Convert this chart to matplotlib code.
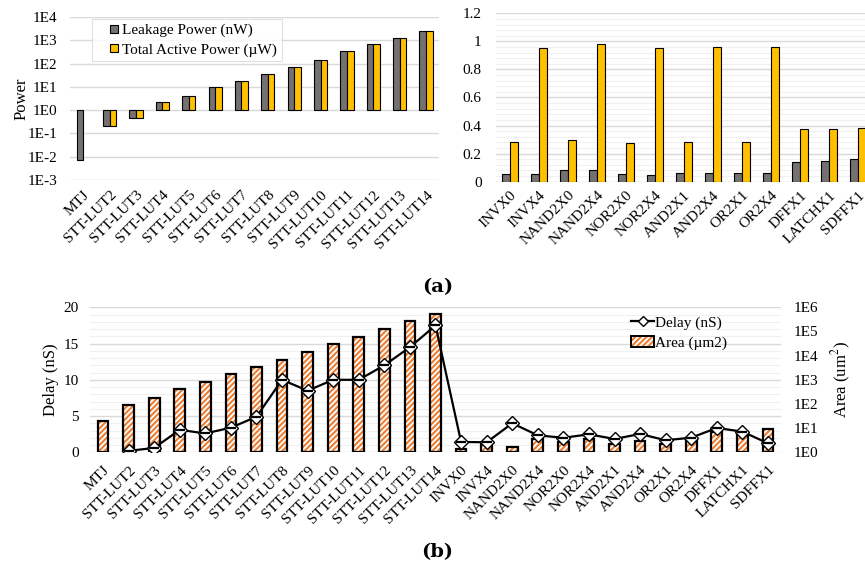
import matplotlib
matplotlib.use("Agg")
import matplotlib.pyplot as plt
import numpy as np
from matplotlib.ticker import FuncFormatter, MultipleLocator, LogLocator, NullFormatter
from matplotlib.lines import Line2D
from matplotlib.patches import Patch
from matplotlib.legend_handler import HandlerTuple

plt.rcParams['font.family'] = ['Liberation Serif', 'DejaVu Serif']
plt.rcParams['mathtext.fontset'] = 'stix'
plt.rcParams['hatch.color'] = '#ED7D31'
plt.rcParams['hatch.linewidth'] = 1.5

# ---- data ----
stt_cells = ['MTJ', 'STT-LUT2', 'STT-LUT3', 'STT-LUT4', 'STT-LUT5', 'STT-LUT6', 'STT-LUT7',
             'STT-LUT8', 'STT-LUT9', 'STT-LUT10', 'STT-LUT11', 'STT-LUT12', 'STT-LUT13', 'STT-LUT14']
stt_leak = [0.0075, 0.2, 0.47, 2.35, 4.0, 10, 18, 36, 73, 145, 340, 680, 1260, 2500]
stt_active = [np.nan, 0.2, 0.47, 2.35, 4.0, 10, 18, 36, 73, 145, 340, 680, 1260, 2500]

cmos_cells = ['INVX0', 'INVX4', 'NAND2X0', 'NAND2X4', 'NOR2X0', 'NOR2X4', 'AND2X1',
              'AND2X4', 'OR2X1', 'OR2X4', 'DFFX1', 'LATCHX1', 'SDFFX1']
cmos_leak = [0.055, 0.055, 0.08, 0.08, 0.052, 0.05, 0.062, 0.06, 0.06, 0.06, 0.142, 0.147, 0.161]
cmos_active = [0.28, 0.95, 0.30, 0.98, 0.273, 0.95, 0.28, 0.96, 0.28, 0.96, 0.373, 0.373, 0.382]

all_cells = stt_cells + cmos_cells
area = [20, 88, 182, 417, 835, 1690, 3390, 6800, 14100, 29500, 61000, 127000, 263000, 550000,
        1.33, 2.14, 1.61, 3.56, 2.76, 3.56, 2.21, 2.94, 2.28, 2.94, 7.2, 5.0, 8.9]
delay = [np.nan, 0.2, 0.6, 3.1, 2.6, 3.4, 4.9, 10.0, 8.5, 10.0, 10.0, 12.0, 14.5, 17.5,
         1.43, 1.38, 4.0, 2.34, 2.0, 2.48, 1.84, 2.53, 1.66, 2.02, 3.36, 2.85, 1.24]

gray = '#767171'
yellow = '#FFC000'
major_grid = '#d9d9d9'
minor_grid = '#f0f0f0'

W, H = 865, 567
fig = plt.figure(figsize=(W / 100, H / 100), dpi=100)


def rect(x0, y0, x1, y1):
    # pixel box -> figure fraction
    return [x0 / W, 1 - y1 / H, (x1 - x0) / W, (y1 - y0) / H]


def clean(ax):
    for s in ax.spines.values():
        s.set_visible(False)
    ax.tick_params(which='both', length=0)


# ---- (a) left: STT power, log ----
ax1 = fig.add_axes(rect(70.1, 17, 439.2, 180))
x1 = np.arange(len(stt_cells))
bw = 0.25
leak = np.array(stt_leak)
act = np.array(stt_active)
ax1.bar(x1 - bw / 2, leak - 1, bottom=1, width=bw, color=gray, edgecolor='black', lw=0.8)
ax1.bar(x1 + bw / 2, act - 1, bottom=1, width=bw, color=yellow, edgecolor='black', lw=0.8)
ax1.set_yscale('log')
ax1.set_ylim(1e-3, 1e4)
ax1.set_xlim(-0.5, len(stt_cells) - 0.5)
ax1.set_yticks([10.0 ** k for k in range(-3, 5)])
ax1.yaxis.set_major_formatter(FuncFormatter(lambda v, p: '1E%d' % round(np.log10(v))))
ax1.yaxis.set_minor_locator(LogLocator(base=10, subs=np.arange(2, 10)))
ax1.yaxis.set_minor_formatter(NullFormatter())
ax1.grid(axis='y', which='major', color=major_grid, lw=1)
ax1.grid(axis='y', which='minor', color=minor_grid, lw=0.8)
ax1.set_axisbelow(True)
ax1.set_xticks(x1)
ax1.set_xticklabels(stt_cells, rotation=45, ha='right', rotation_mode='anchor')
clean(ax1)
ax1.tick_params(axis='y', labelsize=11, pad=9)
ax1.tick_params(axis='x', labelsize=11, pad=6)
ax1.set_ylabel('Power', fontsize=12)
ax1.yaxis.set_label_coords(-0.11, 0.5)

sq_leak = Line2D([], [], ls='none', marker='s', ms=6, mfc=gray, mec='black', mew=0.8)
sq_act = Line2D([], [], ls='none', marker='s', ms=6, mfc=yellow, mec='black', mew=0.8)
leg = ax1.legend([sq_leak, sq_act], ['Leakage Power (nW)', 'Total Active Power (\u00b5W)'],
                 loc='upper left', bbox_to_anchor=(91.7 / W, 1 - 19 / H), bbox_transform=fig.transFigure,
                 borderaxespad=0, fontsize=11, frameon=True, fancybox=False, edgecolor=major_grid,
                 handlelength=2.3, handletextpad=-0.6, borderpad=0.3, labelspacing=0.35)
leg.get_frame().set_linewidth(0.8)

# ---- (a) right: CMOS power, linear ----
ax2 = fig.add_axes(rect(495.5, 13.3, 872.5, 181.7))
x2 = np.arange(len(cmos_cells))
bw2 = 0.26
ax2.bar(x2 - bw2 / 2, cmos_leak, width=bw2, color=gray, edgecolor='black', lw=0.8)
ax2.bar(x2 + bw2 / 2, cmos_active, width=bw2, color=yellow, edgecolor='black', lw=0.8)
ax2.set_ylim(0, 1.2)
ax2.set_xlim(-0.5, len(cmos_cells) - 0.5)
ax2.yaxis.set_major_locator(MultipleLocator(0.2))
ax2.yaxis.set_minor_locator(MultipleLocator(0.04))
ax2.yaxis.set_major_formatter(FuncFormatter(lambda v, p: '%g' % round(v, 2)))
ax2.grid(axis='y', which='major', color=major_grid, lw=1)
ax2.grid(axis='y', which='minor', color=minor_grid, lw=0.8)
ax2.set_axisbelow(True)
ax2.set_xticks(x2)
ax2.set_xticklabels(cmos_cells, rotation=45, ha='right', rotation_mode='anchor')
clean(ax2)
ax2.tick_params(axis='y', labelsize=11, pad=10)
ax2.tick_params(axis='x', labelsize=11, pad=5)

fig.text(437.5 / W, 1 - 287 / H, '(a)', fontsize=14, fontweight='bold', family='DejaVu Serif',
         ha='center', va='center')

# ---- (b) delay + area ----
axb = fig.add_axes(rect(90.2, 307.3, 780.8, 452.3))
xb = np.arange(len(all_cells))
axb.set_ylim(0, 20)
axb.set_xlim(-0.5, len(all_cells) - 0.5)
axb.yaxis.set_major_locator(MultipleLocator(5))
axb.yaxis.set_minor_locator(MultipleLocator(1))
axb.grid(axis='y', which='major', color=major_grid, lw=1)
axb.grid(axis='y', which='minor', color=minor_grid, lw=0.8)
axb.set_axisbelow(True)
axb.set_xticks(xb)
axb.set_xticklabels(all_cells, rotation=45, ha='right', rotation_mode='anchor')
clean(axb)
axb.tick_params(axis='y', labelsize=11, pad=8)
axb.tick_params(axis='x', labelsize=11, pad=8)
axb.set_ylabel('Delay (nS)', fontsize=12)
axb.yaxis.set_label_coords(-0.045, 0.5)

# area bars on log axis (right)
axa = axb.twinx()
ar = np.array(area)
bwb = 0.42
axa.bar(xb, ar - 1, bottom=1, width=bwb, color='white', hatch='//////', lw=0)
axa.bar(xb, ar - 1, bottom=1, width=bwb, fill=False, edgecolor='black', lw=1.6)
axa.set_yscale('log')
axa.set_ylim(1, 1e6)
axa.set_yticks([10.0 ** k for k in range(0, 7)])
axa.yaxis.set_major_formatter(FuncFormatter(lambda v, p: '1E%d' % round(np.log10(v))))
axa.yaxis.set_minor_formatter(NullFormatter())
clean(axa)
axa.tick_params(axis='y', labelsize=11, pad=9)
axa.set_ylabel('Area (um$^2$)', fontsize=12)
axa.yaxis.set_label_coords(1.071, 0.5)

# delay line on top
axl = axb.twinx()
axl.set_ylim(0, 20)
axl.set_yticks([])
clean(axl)
axl.plot(xb, delay, color='black', lw=1.6, marker='D', ms=7.5, mfc='white', mec='black', mew=1.0)
axl.plot(xb, delay, ls='none', marker='_', ms=7.5, mec='black', mew=1.6)

h_line = Line2D([], [], color='black', lw=1.6, marker='D', ms=5.5, mfc='white', mec='black')
h_fill = Patch(facecolor='white', hatch='//////', lw=0)
h_edge = Patch(fill=False, edgecolor='black', lw=1.4)
axl.legend([h_line, (h_fill, h_edge)], ['Delay (nS)', 'Area (\u00b5m2)'],
           handler_map={tuple: HandlerTuple(ndivide=1, pad=0)},
           loc='upper left', bbox_to_anchor=(628 / W, 1 - 313 / H), bbox_transform=fig.transFigure,
           borderaxespad=0, frameon=False, fontsize=11, handlelength=1.5, handleheight=0.7,
           handletextpad=0.05, labelspacing=0.4, borderpad=0.2)

fig.text(437.5 / W, 1 - 552 / H, '(b)', fontsize=14, fontweight='bold', family='DejaVu Serif',
         ha='center', va='center')

fig.savefig('out.png', dpi=100)
